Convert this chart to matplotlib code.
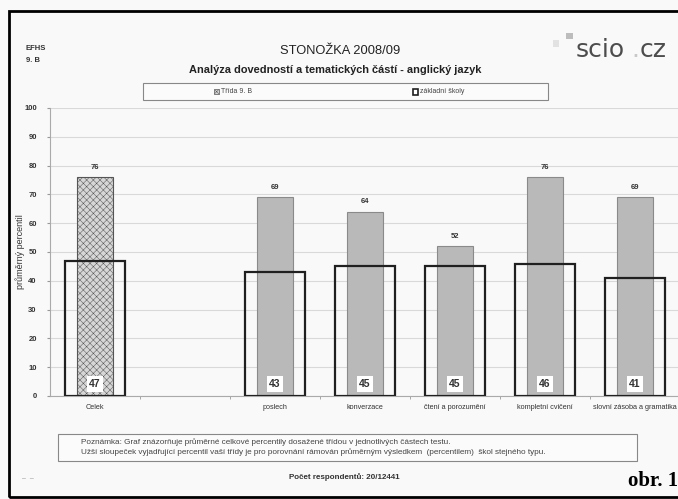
import numpy as np
import matplotlib.pyplot as plt
from matplotlib.patches import Rectangle

plt.rcParams['font.family'] = ['Liberation Sans', 'DejaVu Sans']
plt.rcParams['hatch.color'] = '#a8a8a8'
plt.rcParams['hatch.linewidth'] = 0.35

# data
kategorie = ['Celek', '', 'poslech', 'konverzace', 'čtení a porozumění',
             'kompletní cvičení', 'slovní zásoba a gramatika']
trida = [76, np.nan, 69, 64, 52, 76, 69]      # Třída 9. B
skoly = [47, np.nan, 43, 45, 45, 46, 41]      # základní školy
yticks = list(range(0, 101, 10))

W, H = 678, 499
fig = plt.figure(figsize=(W / 100, H / 100), dpi=100, facecolor='#f9f9f9')

def fx(px):
    return px / W

def fy(py):
    return 1 - py / H

ax = fig.add_axes([fx(50), fy(396), fx(680) - fx(50), fy(108) - fy(396)])
ax.set_facecolor('#f9f9f9')
x = np.arange(len(kategorie))

cols = ['#d6d6d6'] + ['#b9b9b9'] * (len(x) - 1)
bars = ax.bar(x, trida, width=0.39, color=cols, edgecolor='#8a8a8a', linewidth=0.8, zorder=2)
bars[0].set_hatch('xxxxx')
bars[0].set_edgecolor('#555555')
ax.bar(x, skoly, width=0.667, facecolor='none', edgecolor='#202020', linewidth=1.6, zorder=3)

for xi, v in zip(x, trida):
    if not np.isnan(v):
        ax.text(xi, v + 2.2, f'{v:.0f}', ha='center', va='bottom', fontsize=5.5,
                fontweight='bold', color='#333333')
for xi, v in zip(x, skoly):
    if not np.isnan(v):
        ax.text(xi, 4.2, f'{v:.0f}', ha='center', va='center', fontsize=7.5,
                fontweight='bold', color='#333333', zorder=4,
                bbox=dict(boxstyle='square,pad=0.25', fc='white', ec='none'))

ax.set_xlim(-0.5, len(x) - 0.5)
ax.set_ylim(0, 100)
ax.set_yticks(yticks)
ax.set_yticklabels([str(t) for t in yticks], fontsize=5.5, fontweight='bold', color='#333333')
ax.set_xticks(x)
ax.set_xticklabels(kategorie, fontsize=5.2, color='#333333')
ax.tick_params(axis='x', length=0, pad=6)
ax.set_xticks(np.arange(0.5, len(x) - 0.5, 1), minor=True)
ax.tick_params(axis='x', which='minor', length=2.5, color='#999999')
ax.tick_params(axis='y', length=2.5, color='#999999', pad=7)
ax.yaxis.grid(True, color='#d9d9d9', linewidth=0.8, zorder=0)
ax.set_axisbelow(True)
for s in ['top', 'right']:
    ax.spines[s].set_visible(False)
ax.spines['left'].set_color('#aaaaaa')
ax.spines['bottom'].set_color('#aaaaaa')
ax.set_ylabel('průměrný percentil', fontsize=6.5, color='#333333')
ax.yaxis.set_label_coords((25 - 50) / 630, 0.5)

# header
fig.text(fx(26), fy(48), 'EFHS', fontsize=5.5, fontweight='bold', va='center', color='#333333')
fig.text(fx(26), fy(60), '9. B', fontsize=5.5, fontweight='bold', va='center', color='#333333')
fig.text(fx(340), fy(51), 'STONOŽKA 2008/09', fontsize=9.3, ha='center', va='center', color='#222222')
fig.text(fx(335), fy(70), 'Analýza dovedností a tematických částí - anglický jazyk',
         fontsize=7.9, fontweight='bold', ha='center', va='center', color='#222222')

# logo
fig.patches.append(Rectangle((fx(566), fy(39)), fx(7), fy(33) - fy(39), transform=fig.transFigure,
                             fc='#bdbdbd', ec='none'))
fig.patches.append(Rectangle((fx(553), fy(47)), fx(6), fy(40) - fy(47), transform=fig.transFigure,
                             fc='#e2e2e2', ec='none'))
fig.text(fx(576), fy(50), 'scio', fontsize=18, va='center', color='#4d4d4d', family='DejaVu Sans')
fig.text(fx(631), fy(50), '.', fontsize=18, va='center', color='#c8c8c8', family='DejaVu Sans')
fig.text(fx(640), fy(50), 'cz', fontsize=18, va='center', color='#4d4d4d', family='DejaVu Sans')

# legend box
fig.patches.append(Rectangle((fx(143), fy(100)), fx(548) - fx(143), fy(83) - fy(100),
                             transform=fig.transFigure, fc='#fbfbfb', ec='#888888', lw=0.8))
fig.patches.append(Rectangle((fx(214), fy(94)), fx(5), fy(89) - fy(94), transform=fig.transFigure,
                             fc='#d6d6d6', ec='#555555', lw=0.5, hatch='xxxx'))
fig.text(fx(221), fy(91.5), 'Třída 9. B', fontsize=5, va='center', color='#444444')
fig.patches.append(Rectangle((fx(413), fy(94.5)), fx(5), fy(88.5) - fy(94.5), transform=fig.transFigure,
                             fc='white', ec='#202020', lw=1.2))
fig.text(fx(420), fy(91.5), 'základní školy', fontsize=5, va='center', color='#444444')

# note box
fig.patches.append(Rectangle((fx(58), fy(461)), fx(637) - fx(58), fy(434) - fy(461),
                             transform=fig.transFigure, fc='#fbfbfb', ec='#888888', lw=0.8))
fig.text(fx(81), fy(442), 'Poznámka: Graf znázorňuje průměrné celkové percentily dosažené třídou v jednotlivých částech testu.',
         fontsize=5.9, va='center', color='#444444')
fig.text(fx(81), fy(452), 'Užší sloupeček vyjadřující percentil vaší třídy je pro porovnání rámován průměrným výsledkem  (percentilem)  škol stejného typu.',
         fontsize=5.9, va='center', color='#444444')
fig.text(fx(344), fy(477), 'Počet respondentů: 20/12441', fontsize=5.8, fontweight='bold',
         ha='center', va='center', color='#333333')
fig.text(fx(22), fy(479), '–  –', fontsize=5, va='center', color='#999999')
fig.text(fx(678), fy(481), 'obr. 1', fontsize=15, fontweight='bold', ha='right', va='center',
         family='Liberation Serif', color='black')

# outer frame (runs off the right edge)
fig.patches.append(Rectangle((fx(9), fy(497)), fx(700), fy(11) - fy(497), transform=fig.transFigure,
                             fc='none', ec='black', lw=2, clip_on=False))

fig.savefig('out.png', dpi=100, facecolor=fig.get_facecolor())
